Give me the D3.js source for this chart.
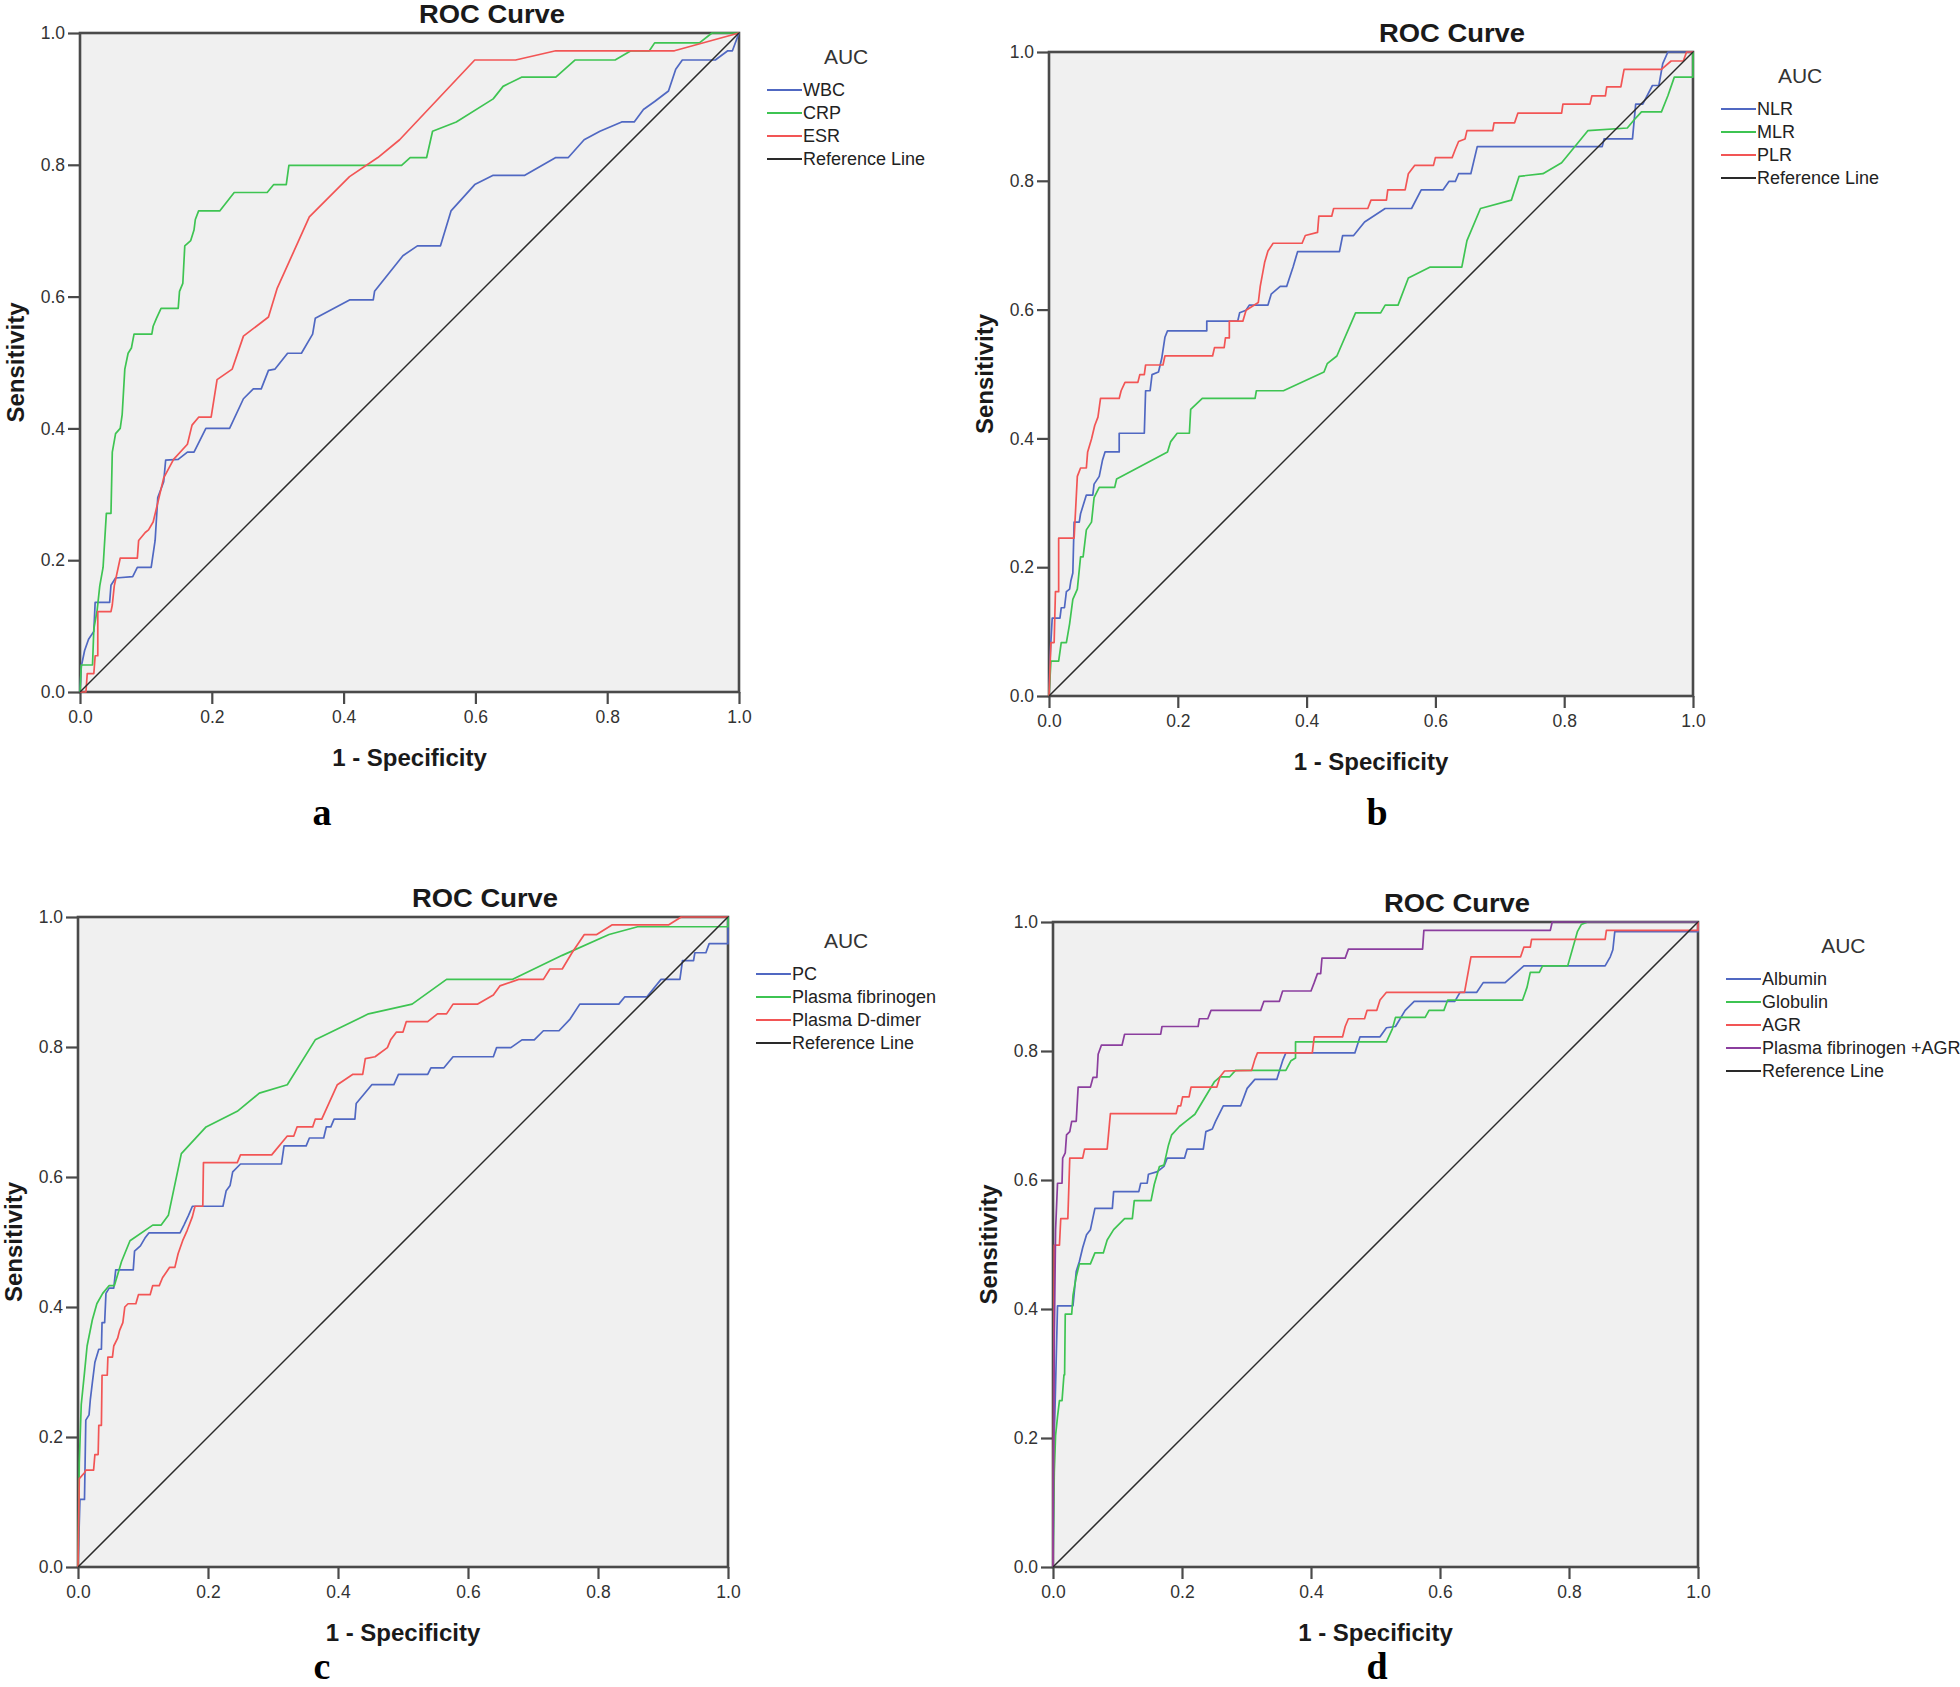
<!DOCTYPE html>
<html><head><meta charset="utf-8">
<script src="https://cdn.jsdelivr.net/npm/d3@7"></script>
<style>
html,body{margin:0;padding:0;background:#fff;}
svg{display:block;font-family:"Liberation Sans",Arial,sans-serif;}
</style></head>
<body><svg id="chart" width="1960" height="1687"></svg>
<script>
// ---------- DATA ----------
const panelLetters = ["a","b","c","d"];
const chartTitle = "ROC Curve";
const xAxisTitle = "1 - Specificity";
const yAxisTitle = "Sensitivity";
const legendTitle = "AUC";
const tickValues = [0.0,0.2,0.4,0.6,0.8,1.0];
const refLine = [[0,0],[1,1]];

// Panel a
const namesA = ["WBC","CRP","ESR","Reference Line"];
const rocWBC = [[0,0],[0.002,0.039],[0.007,0.063],[0.013,0.080],[0.021,0.092],[0.023,0.136],[0.045,0.136],[0.047,0.162],[0.054,0.173],[0.080,0.175],[0.087,0.189],[0.108,0.189],[0.114,0.23],[0.118,0.295],[0.127,0.319],[0.130,0.352],[0.149,0.353],[0.163,0.364],[0.173,0.364],[0.191,0.40],[0.227,0.40],[0.248,0.445],[0.263,0.46],[0.275,0.46],[0.286,0.488],[0.296,0.49],[0.315,0.514],[0.336,0.514],[0.353,0.543],[0.357,0.567],[0.409,0.595],[0.445,0.595],[0.447,0.608],[0.490,0.662],[0.512,0.677],[0.547,0.677],[0.563,0.73],[0.599,0.77],[0.627,0.784],[0.675,0.784],[0.722,0.811],[0.741,0.811],[0.765,0.838],[0.789,0.851],[0.822,0.865],[0.841,0.865],[0.855,0.884],[0.872,0.896],[0.893,0.912],[0.904,0.945],[0.914,0.959],[0.964,0.959],[0.983,0.973],[0.99,0.973],[1,1]];
const rocCRP = [[0,0],[0.002,0.041],[0.019,0.041],[0.021,0.096],[0.026,0.124],[0.030,0.161],[0.035,0.189],[0.040,0.271],[0.047,0.271],[0.049,0.364],[0.054,0.392],[0.061,0.40],[0.064,0.421],[0.068,0.49],[0.073,0.514],[0.078,0.522],[0.082,0.543],[0.109,0.543],[0.111,0.555],[0.116,0.567],[0.123,0.582],[0.149,0.582],[0.151,0.608],[0.156,0.62],[0.159,0.677],[0.168,0.685],[0.173,0.701],[0.175,0.717],[0.180,0.730],[0.212,0.730],[0.234,0.758],[0.284,0.758],[0.294,0.770],[0.313,0.770],[0.317,0.799],[0.488,0.799],[0.501,0.811],[0.526,0.811],[0.535,0.851],[0.571,0.865],[0.627,0.900],[0.642,0.919],[0.670,0.933],[0.722,0.933],[0.751,0.959],[0.812,0.959],[0.836,0.973],[0.864,0.973],[0.872,0.985],[0.940,0.985],[0.959,1.0],[1,1]];
const rocESR = [[0,0],[0.009,0],[0.011,0.028],[0.021,0.028],[0.023,0.055],[0.027,0.055],[0.027,0.122],[0.047,0.122],[0.049,0.132],[0.052,0.161],[0.061,0.203],[0.087,0.203],[0.089,0.23],[0.099,0.242],[0.104,0.246],[0.111,0.258],[0.118,0.287],[0.127,0.325],[0.142,0.353],[0.163,0.376],[0.170,0.405],[0.180,0.417],[0.199,0.417],[0.208,0.474],[0.231,0.49],[0.248,0.54],[0.286,0.569],[0.299,0.612],[0.348,0.721],[0.409,0.782],[0.452,0.811],[0.485,0.838],[0.599,0.959],[0.661,0.959],[0.722,0.973],[0.902,0.973],[1,1]];

// Panel b
const namesB = ["NLR","MLR","PLR","Reference Line"];
const rocNLR = [[0,0],[0.002,0.067],[0.005,0.121],[0.017,0.121],[0.019,0.137],[0.024,0.137],[0.027,0.162],[0.032,0.166],[0.034,0.179],[0.037,0.191],[0.039,0.27],[0.047,0.27],[0.049,0.283],[0.058,0.312],[0.068,0.312],[0.070,0.329],[0.078,0.341],[0.083,0.366],[0.087,0.379],[0.109,0.379],[0.109,0.408],[0.148,0.408],[0.150,0.474],[0.157,0.474],[0.160,0.499],[0.170,0.503],[0.175,0.524],[0.180,0.557],[0.184,0.567],[0.245,0.567],[0.245,0.582],[0.293,0.582],[0.296,0.595],[0.306,0.599],[0.311,0.607],[0.340,0.607],[0.345,0.624],[0.359,0.636],[0.369,0.636],[0.379,0.666],[0.386,0.69],[0.451,0.69],[0.456,0.715],[0.473,0.715],[0.490,0.736],[0.522,0.757],[0.563,0.757],[0.578,0.786],[0.612,0.786],[0.621,0.799],[0.631,0.799],[0.636,0.811],[0.655,0.811],[0.665,0.853],[0.859,0.853],[0.862,0.865],[0.906,0.865],[0.911,0.919],[0.922,0.919],[0.937,0.948],[0.947,0.948],[0.953,0.982],[0.961,1.0],[1,1]];
const rocMLR = [[0,0],[0.003,0.054],[0.015,0.054],[0.019,0.083],[0.027,0.083],[0.032,0.112],[0.037,0.15],[0.044,0.166],[0.049,0.216],[0.053,0.216],[0.058,0.258],[0.066,0.27],[0.070,0.308],[0.078,0.324],[0.102,0.324],[0.105,0.337],[0.184,0.379],[0.189,0.395],[0.199,0.408],[0.218,0.408],[0.220,0.445],[0.238,0.462],[0.320,0.462],[0.322,0.474],[0.364,0.474],[0.427,0.503],[0.432,0.516],[0.447,0.528],[0.476,0.595],[0.515,0.595],[0.522,0.607],[0.542,0.607],[0.558,0.649],[0.592,0.666],[0.641,0.666],[0.649,0.707],[0.670,0.757],[0.718,0.77],[0.730,0.807],[0.767,0.811],[0.796,0.828],[0.837,0.878],[0.898,0.882],[0.908,0.894],[0.920,0.907],[0.951,0.907],[0.961,0.932],[0.971,0.961],[1.0,0.961],[1,1]];
const rocPLR = [[0,0],[0.003,0.083],[0.008,0.083],[0.010,0.162],[0.015,0.162],[0.015,0.245],[0.039,0.245],[0.044,0.341],[0.049,0.354],[0.058,0.354],[0.060,0.379],[0.066,0.399],[0.071,0.42],[0.076,0.433],[0.080,0.462],[0.109,0.462],[0.112,0.474],[0.118,0.487],[0.138,0.487],[0.141,0.499],[0.148,0.499],[0.150,0.514],[0.177,0.514],[0.180,0.528],[0.254,0.528],[0.257,0.541],[0.272,0.541],[0.274,0.556],[0.280,0.556],[0.280,0.582],[0.301,0.582],[0.306,0.599],[0.325,0.611],[0.328,0.636],[0.335,0.674],[0.340,0.691],[0.348,0.703],[0.393,0.703],[0.398,0.715],[0.417,0.72],[0.419,0.745],[0.439,0.745],[0.442,0.757],[0.495,0.757],[0.5,0.77],[0.524,0.77],[0.526,0.786],[0.553,0.786],[0.558,0.811],[0.568,0.824],[0.597,0.824],[0.600,0.836],[0.626,0.836],[0.631,0.849],[0.636,0.861],[0.646,0.865],[0.649,0.878],[0.689,0.878],[0.691,0.89],[0.723,0.89],[0.728,0.905],[0.796,0.905],[0.798,0.919],[0.840,0.919],[0.843,0.932],[0.864,0.932],[0.866,0.946],[0.888,0.946],[0.893,0.973],[0.951,0.973],[0.966,0.986],[0.985,0.986],[0.990,1.0],[1,1]];

// Panel c
const namesC = ["PC","Plasma fibrinogen","Plasma D-dimer","Reference Line"];
const rocPC = [[0,0],[0.003,0.104],[0.010,0.104],[0.012,0.226],[0.017,0.234],[0.019,0.258],[0.022,0.283],[0.026,0.315],[0.032,0.335],[0.036,0.335],[0.037,0.376],[0.041,0.376],[0.043,0.421],[0.048,0.429],[0.055,0.429],[0.058,0.457],[0.085,0.457],[0.087,0.486],[0.096,0.494],[0.103,0.506],[0.109,0.514],[0.157,0.514],[0.163,0.526],[0.170,0.541],[0.176,0.555],[0.223,0.555],[0.228,0.579],[0.234,0.587],[0.238,0.608],[0.25,0.62],[0.313,0.62],[0.317,0.648],[0.351,0.648],[0.356,0.66],[0.378,0.66],[0.382,0.677],[0.389,0.677],[0.394,0.689],[0.426,0.689],[0.428,0.713],[0.452,0.742],[0.486,0.742],[0.493,0.758],[0.538,0.758],[0.543,0.768],[0.563,0.768],[0.577,0.785],[0.639,0.785],[0.644,0.799],[0.666,0.799],[0.683,0.811],[0.702,0.811],[0.716,0.825],[0.740,0.825],[0.757,0.843],[0.772,0.866],[0.832,0.866],[0.841,0.877],[0.875,0.877],[0.897,0.904],[0.926,0.904],[0.930,0.933],[0.947,0.933],[0.949,0.945],[0.966,0.945],[0.971,0.959],[1.0,0.959],[1,1]];
const rocFib = [[0,0],[0.002,0.161],[0.005,0.25],[0.010,0.299],[0.014,0.34],[0.022,0.38],[0.029,0.405],[0.038,0.421],[0.048,0.433],[0.056,0.433],[0.067,0.47],[0.080,0.502],[0.115,0.526],[0.128,0.526],[0.139,0.541],[0.159,0.636],[0.197,0.677],[0.245,0.701],[0.279,0.729],[0.322,0.742],[0.365,0.811],[0.447,0.851],[0.514,0.866],[0.567,0.904],[0.668,0.904],[0.745,0.941],[0.817,0.973],[0.861,0.985],[1.0,0.985],[1,1]];
const rocDdimer = [[0,0],[0.002,0.136],[0.010,0.145],[0.012,0.149],[0.024,0.149],[0.026,0.173],[0.031,0.173],[0.032,0.218],[0.036,0.218],[0.037,0.295],[0.045,0.295],[0.046,0.323],[0.053,0.323],[0.055,0.34],[0.061,0.352],[0.064,0.364],[0.069,0.376],[0.072,0.40],[0.077,0.405],[0.089,0.405],[0.093,0.419],[0.111,0.419],[0.115,0.433],[0.125,0.433],[0.130,0.445],[0.141,0.461],[0.149,0.461],[0.154,0.482],[0.161,0.502],[0.168,0.518],[0.176,0.539],[0.180,0.555],[0.192,0.555],[0.193,0.622],[0.245,0.622],[0.25,0.634],[0.298,0.634],[0.322,0.663],[0.332,0.663],[0.337,0.677],[0.361,0.677],[0.365,0.689],[0.375,0.689],[0.399,0.742],[0.423,0.758],[0.438,0.758],[0.442,0.782],[0.457,0.785],[0.476,0.799],[0.481,0.811],[0.490,0.823],[0.5,0.823],[0.505,0.839],[0.538,0.839],[0.553,0.851],[0.567,0.851],[0.577,0.866],[0.615,0.866],[0.639,0.88],[0.649,0.894],[0.678,0.904],[0.716,0.904],[0.726,0.92],[0.745,0.92],[0.760,0.945],[0.779,0.973],[0.798,0.973],[0.822,0.988],[0.909,0.988],[0.928,1.0],[1,1]];

// Panel d
const namesD = ["Albumin","Globulin","AGR","Plasma fibrinogen +AGR","Reference Line"];
const rocAlbumin = [[0,0],[0.001,0.18],[0.003,0.241],[0.005,0.323],[0.007,0.405],[0.031,0.405],[0.036,0.458],[0.041,0.474],[0.046,0.495],[0.052,0.515],[0.058,0.523],[0.065,0.556],[0.092,0.556],[0.094,0.582],[0.133,0.582],[0.136,0.595],[0.146,0.595],[0.148,0.609],[0.162,0.613],[0.172,0.621],[0.177,0.634],[0.204,0.634],[0.208,0.648],[0.233,0.648],[0.237,0.675],[0.247,0.679],[0.252,0.691],[0.264,0.715],[0.291,0.715],[0.301,0.742],[0.313,0.756],[0.347,0.756],[0.351,0.769],[0.356,0.785],[0.361,0.797],[0.468,0.797],[0.476,0.822],[0.507,0.822],[0.517,0.836],[0.531,0.838],[0.546,0.863],[0.560,0.877],[0.623,0.877],[0.631,0.891],[0.657,0.891],[0.667,0.906],[0.701,0.906],[0.730,0.932],[0.856,0.932],[0.864,0.946],[0.868,0.957],[0.871,0.985],[1.0,0.985],[1,1]];
const rocGlobulin = [[0,0],[0.002,0.147],[0.004,0.204],[0.007,0.233],[0.010,0.258],[0.014,0.258],[0.017,0.298],[0.018,0.298],[0.019,0.392],[0.029,0.392],[0.031,0.421],[0.036,0.45],[0.041,0.47],[0.058,0.47],[0.065,0.487],[0.078,0.487],[0.084,0.507],[0.094,0.523],[0.111,0.54],[0.123,0.54],[0.126,0.568],[0.152,0.568],[0.157,0.593],[0.165,0.621],[0.172,0.623],[0.179,0.654],[0.184,0.670],[0.196,0.683],[0.206,0.691],[0.220,0.702],[0.250,0.752],[0.259,0.760],[0.274,0.760],[0.283,0.770],[0.361,0.770],[0.369,0.785],[0.376,0.789],[0.376,0.814],[0.517,0.814],[0.526,0.834],[0.531,0.852],[0.577,0.852],[0.583,0.863],[0.606,0.863],[0.612,0.879],[0.728,0.879],[0.735,0.899],[0.740,0.922],[0.754,0.922],[0.759,0.932],[0.798,0.932],[0.813,0.985],[0.819,0.996],[0.829,1.0],[1,1]];
const rocAGR = [[0,0],[0.002,0.499],[0.010,0.499],[0.012,0.54],[0.023,0.54],[0.026,0.634],[0.046,0.634],[0.049,0.648],[0.084,0.648],[0.089,0.703],[0.191,0.703],[0.194,0.715],[0.198,0.715],[0.201,0.729],[0.211,0.729],[0.214,0.744],[0.254,0.744],[0.259,0.760],[0.266,0.769],[0.308,0.770],[0.313,0.787],[0.317,0.797],[0.402,0.797],[0.405,0.822],[0.449,0.822],[0.453,0.838],[0.458,0.85],[0.483,0.85],[0.487,0.863],[0.502,0.863],[0.507,0.879],[0.517,0.891],[0.638,0.891],[0.648,0.946],[0.725,0.946],[0.730,0.961],[0.740,0.961],[0.742,0.973],[0.856,0.973],[0.858,0.987],[1.0,0.987],[1,1]];
const rocFibAGR = [[0,0],[0.001,0.196],[0.002,0.352],[0.004,0.523],[0.007,0.595],[0.014,0.595],[0.015,0.634],[0.019,0.642],[0.021,0.670],[0.026,0.675],[0.029,0.691],[0.036,0.691],[0.039,0.744],[0.058,0.744],[0.062,0.759],[0.068,0.759],[0.070,0.795],[0.075,0.809],[0.107,0.809],[0.111,0.826],[0.167,0.826],[0.169,0.838],[0.225,0.838],[0.227,0.85],[0.240,0.85],[0.245,0.863],[0.322,0.863],[0.327,0.877],[0.351,0.877],[0.356,0.893],[0.4,0.893],[0.405,0.906],[0.410,0.92],[0.415,0.92],[0.417,0.944],[0.453,0.944],[0.458,0.958],[0.573,0.958],[0.575,0.987],[0.771,0.987],[0.774,1.0],[1,1]];

// ---------- STYLE / LAYOUT ----------
const colors = {blue:"#5068c2", green:"#3ec452", red:"#f25555", purple:"#8b3e9e", ref:"#2a2a2a"};
const panels = [
  {letter:panelLetters[0], x0:80,  x1:739,  y0:33,  y1:692,  titleX:492,  labelX:322,  labelY:825,
   series:[rocWBC,rocCRP,rocESR], names:namesA, cols:[colors.blue,colors.green,colors.red]},
  {letter:panelLetters[1], x0:1049,x1:1693, y0:52,  y1:696,  titleX:1452, labelX:1377, labelY:825,
   series:[rocNLR,rocMLR,rocPLR], names:namesB, cols:[colors.blue,colors.green,colors.red]},
  {letter:panelLetters[2], x0:78,  x1:728,  y0:917, y1:1567, titleX:485,  labelX:322,  labelY:1679,
   series:[rocPC,rocFib,rocDdimer], names:namesC, cols:[colors.blue,colors.green,colors.red]},
  {letter:panelLetters[3], x0:1053,x1:1698, y0:922, y1:1567, titleX:1457, labelX:1377, labelY:1679,
   series:[rocAlbumin,rocGlobulin,rocAGR,rocFibAGR], names:namesD, cols:[colors.blue,colors.green,colors.red,colors.purple]}
];

const svg = d3.select("#chart");
const fmt = d3.format(".1f");

panels.forEach(p => {
  const g = svg.append("g");
  const x = d3.scaleLinear().domain([0,1]).range([p.x0,p.x1]);
  const y = d3.scaleLinear().domain([0,1]).range([p.y1,p.y0]);

  g.append("rect").attr("x",p.x0).attr("y",p.y0)
    .attr("width",p.x1-p.x0).attr("height",p.y1-p.y0)
    .attr("fill","#f0f0f0");

  // axes
  const ax = g.append("g").attr("transform",`translate(0,${p.y1})`)
    .call(d3.axisBottom(x).tickValues(tickValues).tickFormat(fmt).tickSize(12).tickPadding(7));
  const ay = g.append("g").attr("transform",`translate(${p.x0},0)`)
    .call(d3.axisLeft(y).tickValues(tickValues).tickFormat(fmt).tickSize(12).tickPadding(3));
  [ax,ay].forEach(a=>{
    a.select(".domain").remove();
    a.selectAll(".tick line").attr("stroke","#4a4a4a").attr("stroke-width",2.2);
    a.selectAll(".tick text").attr("font-size",17.5).attr("fill","#333")
      .attr("font-family","'Liberation Sans',Arial,sans-serif");
  });

  // frame
  g.append("rect").attr("x",p.x0).attr("y",p.y0)
    .attr("width",p.x1-p.x0).attr("height",p.y1-p.y0)
    .attr("fill","none").attr("stroke","#4a4a4a").attr("stroke-width",2.6);

  const line = d3.line().x(d=>x(d[0])).y(d=>y(d[1]));
  // curves
  p.series.forEach((s,i)=>{
    g.append("path").attr("d",line(s)).attr("fill","none")
      .attr("stroke",p.cols[i]).attr("stroke-width",1.7).attr("stroke-linejoin","round");
  });
  g.append("path").attr("d",line(refLine)).attr("fill","none")
    .attr("stroke",colors.ref).attr("stroke-width",1.5);

  // titles
  g.append("text").attr("x",p.titleX).attr("y",p.y0-10)
    .attr("text-anchor","middle").attr("font-weight","bold").attr("font-size",26)
    .attr("textLength",146).attr("lengthAdjust","spacingAndGlyphs")
    .attr("fill","#1a1a1a").text(chartTitle);
  g.append("text").attr("x",(p.x0+p.x1)/2).attr("y",p.y1+74)
    .attr("text-anchor","middle").attr("font-weight","bold").attr("font-size",24)
    .attr("fill","#1a1a1a").text(xAxisTitle);
  g.append("text").attr("transform",`translate(${p.x0-56},${(p.y0+p.y1)/2}) rotate(-90)`)
    .attr("text-anchor","middle").attr("font-weight","bold").attr("font-size",24)
    .attr("fill","#1a1a1a").text(yAxisTitle);

  // legend
  const lx = p.x1 + 28, llen = 35;
  const cols = p.cols.concat([colors.ref]);
  let maxW = 0;
  p.names.forEach((n,i)=>{
    const yy = p.y0 + 57 + 23*i;
    g.append("line").attr("x1",lx).attr("x2",lx+llen).attr("y1",yy).attr("y2",yy)
      .attr("stroke",cols[i]).attr("stroke-width",2);
    const t = g.append("text").attr("x",lx+llen+1).attr("y",yy).attr("dy","0.36em")
      .attr("font-size",18).attr("fill","#222").text(n);
    maxW = Math.max(maxW, t.node().getComputedTextLength());
  });
  g.append("text").attr("x",lx + (llen+1+maxW)/2).attr("y",p.y0+23).attr("dy","0.36em")
    .attr("text-anchor","middle").attr("font-size",21).attr("fill","#333").text(legendTitle);

  // panel letter
  g.append("text").attr("x",p.labelX).attr("y",p.labelY)
    .attr("text-anchor","middle").attr("font-family","'Liberation Serif','Times New Roman',serif")
    .attr("font-weight","bold").attr("font-size",38).attr("fill","#000").text(p.letter);
});
</script>
</body></html>
